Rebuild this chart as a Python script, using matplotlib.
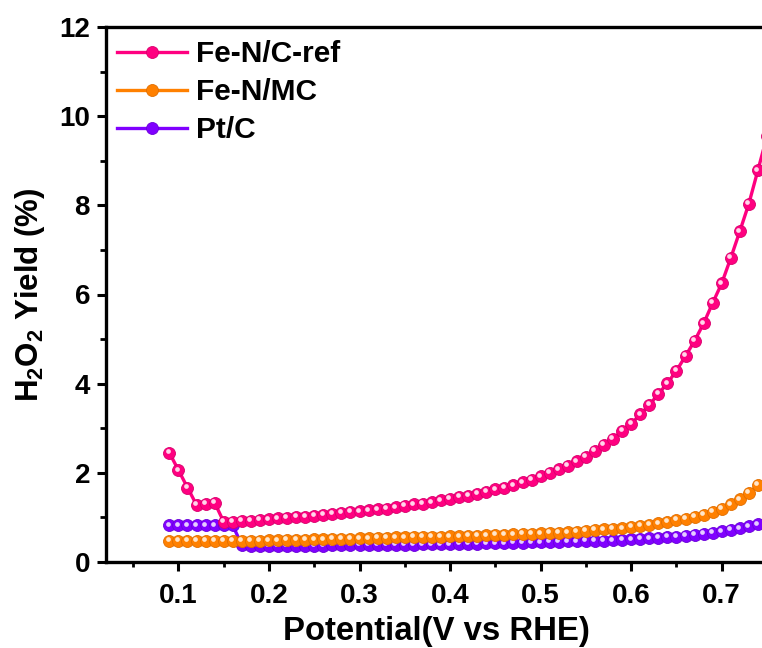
import matplotlib
matplotlib.use("Agg")
import matplotlib.pyplot as plt
from matplotlib.ticker import MultipleLocator
from matplotlib.transforms import offset_copy
from matplotlib.lines import Line2D

plt.rcParams['font.family'] = ['Liberation Sans', 'DejaVu Sans']
plt.rcParams['font.weight'] = 'bold'
plt.rcParams['mathtext.default'] = 'regular'

# ---------------- data ----------------
potential_ref = [0.09, 0.10, 0.11, 0.12, 0.13, 0.14, 0.15, 0.16, 0.17, 0.18,
                 0.19, 0.20, 0.21, 0.22, 0.23, 0.24, 0.25, 0.26, 0.27, 0.28,
                 0.29, 0.30, 0.31, 0.32, 0.33, 0.34, 0.35, 0.36, 0.37, 0.38,
                 0.39, 0.40, 0.41, 0.42, 0.43, 0.44, 0.45, 0.46, 0.47, 0.48,
                 0.49, 0.50, 0.51, 0.52, 0.53, 0.54, 0.55, 0.56, 0.57, 0.58,
                 0.59, 0.60, 0.61, 0.62, 0.63, 0.64, 0.65, 0.66, 0.67, 0.68,
                 0.69, 0.70, 0.71, 0.72, 0.73, 0.74, 0.75]
fe_nc_ref = [2.45, 2.06, 1.67, 1.28, 1.30, 1.33, 0.90, 0.90, 0.92, 0.93,
             0.95, 0.96, 0.98, 0.99, 1.01, 1.02, 1.04, 1.06, 1.08, 1.10,
             1.12, 1.14, 1.16, 1.18, 1.20, 1.23, 1.26, 1.29, 1.31, 1.34,
             1.38, 1.42, 1.46, 1.49, 1.53, 1.58, 1.63, 1.67, 1.72, 1.79,
             1.85, 1.92, 2.00, 2.08, 2.16, 2.26, 2.36, 2.49, 2.63, 2.77,
             2.94, 3.10, 3.31, 3.52, 3.77, 4.01, 4.29, 4.62, 4.96, 5.35,
             5.81, 6.25, 6.82, 7.42, 8.04, 8.79, 9.55]

potential = [0.09, 0.10, 0.11, 0.12, 0.13, 0.14, 0.15, 0.16, 0.17, 0.18,
             0.19, 0.20, 0.21, 0.22, 0.23, 0.24, 0.25, 0.26, 0.27, 0.28,
             0.29, 0.30, 0.31, 0.32, 0.33, 0.34, 0.35, 0.36, 0.37, 0.38,
             0.39, 0.40, 0.41, 0.42, 0.43, 0.44, 0.45, 0.46, 0.47, 0.48,
             0.49, 0.50, 0.51, 0.52, 0.53, 0.54, 0.55, 0.56, 0.57, 0.58,
             0.59, 0.60, 0.61, 0.62, 0.63, 0.64, 0.65, 0.66, 0.67, 0.68,
             0.69, 0.70, 0.71, 0.72, 0.73, 0.74]
fe_n_mc = [0.47, 0.47, 0.47, 0.47, 0.47, 0.47, 0.47, 0.47, 0.47, 0.48,
           0.48, 0.49, 0.49, 0.50, 0.50, 0.50, 0.51, 0.51, 0.52, 0.52,
           0.52, 0.53, 0.53, 0.54, 0.54, 0.55, 0.55, 0.56, 0.56, 0.57,
           0.57, 0.58, 0.58, 0.59, 0.59, 0.60, 0.61, 0.61, 0.62, 0.63,
           0.63, 0.64, 0.65, 0.66, 0.67, 0.68, 0.70, 0.72, 0.73, 0.75,
           0.76, 0.79, 0.81, 0.84, 0.87, 0.90, 0.94, 0.97, 1.02, 1.06,
           1.12, 1.20, 1.29, 1.41, 1.55, 1.73]
pt_c = [0.82, 0.82, 0.82, 0.82, 0.82, 0.82, 0.82, 0.82, 0.38, 0.37,
        0.37, 0.37, 0.37, 0.37, 0.37, 0.37, 0.37, 0.37, 0.38, 0.38,
        0.38, 0.38, 0.38, 0.38, 0.39, 0.39, 0.39, 0.39, 0.40, 0.40,
        0.40, 0.40, 0.41, 0.41, 0.41, 0.42, 0.42, 0.42, 0.43, 0.43,
        0.44, 0.44, 0.45, 0.45, 0.46, 0.46, 0.47, 0.48, 0.48, 0.49,
        0.50, 0.51, 0.52, 0.53, 0.54, 0.56, 0.57, 0.59, 0.61, 0.63,
        0.66, 0.69, 0.72, 0.76, 0.80, 0.85]

labels = ["Fe-N/C-ref", "Fe-N/MC", "Pt/C"]
colors = ["#ff0080", "#ff8000", "#8000ff"]
highlights = ["#ffd6ea", "#ffe6cc", "#e6ccff"]
edges = ["#d8006c", "#e06e00", "#6a00d8"]

# ---------------- figure ----------------
fig = plt.figure(figsize=(7.62, 6.48), dpi=100)
ax = fig.add_axes([106 / 762, 86 / 648, 661 / 762, 535 / 648])

hl_trans = offset_copy(ax.transData, fig=fig, x=-1.6, y=1.6, units='dots')

MS = 8.6
series = [(potential, pt_c, 2), (potential, fe_n_mc, 1), (potential_ref, fe_nc_ref, 0)]
z = 3
for xs, ys, i in series:
    ax.plot(xs, ys, '-', color=colors[i], lw=2.4, marker='o', ms=MS,
            mfc=colors[i], mec=edges[i], mew=0.6, zorder=z, clip_on=True)
    ax.plot(xs, ys, 'o', ms=3.4, mfc=highlights[i], mec='none',
            transform=hl_trans, zorder=z + 0.5, clip_on=True)
    z += 1

ax.set_xlim(0.02, 0.75)
ax.set_ylim(0, 12)
ax.xaxis.set_major_locator(MultipleLocator(0.1))
ax.xaxis.set_minor_locator(MultipleLocator(0.05))
ax.yaxis.set_major_locator(MultipleLocator(2))
ax.yaxis.set_minor_locator(MultipleLocator(1))
ax.tick_params(axis='both', which='major', direction='out', length=6.5, width=2.2,
               labelsize=20)
ax.tick_params(axis='x', which='major', pad=8.5)
ax.tick_params(axis='y', which='major', pad=5)
ax.tick_params(axis='x', which='minor', direction='out', length=3.5, width=2.0)
ax.tick_params(axis='y', which='minor', direction='out', length=4.5, width=2.0)
ax.tick_params(top=False, right=False, which='both')
for lab in ax.get_xticklabels() + ax.get_yticklabels():
    lab.set_fontweight('bold')
for sp in ax.spines.values():
    sp.set_linewidth(2.4)

ax.set_xlabel("Potential(V vs RHE)", fontsize=23.7, fontweight='bold', labelpad=5)
ax.set_ylabel("H$_2$O$_2$ Yield (%)", fontsize=22.5, fontweight='bold', labelpad=9)

handles = []
for i in range(3):
    handles.append(Line2D([], [], color=colors[i], lw=2.4, marker='o', ms=MS,
                          mfc=colors[i], mec=edges[i], mew=0.6))
leg = ax.legend(handles, labels, loc='upper left', bbox_to_anchor=(0.016, 0.975),
                frameon=False, fontsize=21.5, handlelength=2.35, handletextpad=0.3,
                labelspacing=0.33, borderpad=0, borderaxespad=0, markerscale=1.0)
for t in leg.get_texts():
    t.set_fontweight('bold')

fig.savefig("out.png", dpi=100)
